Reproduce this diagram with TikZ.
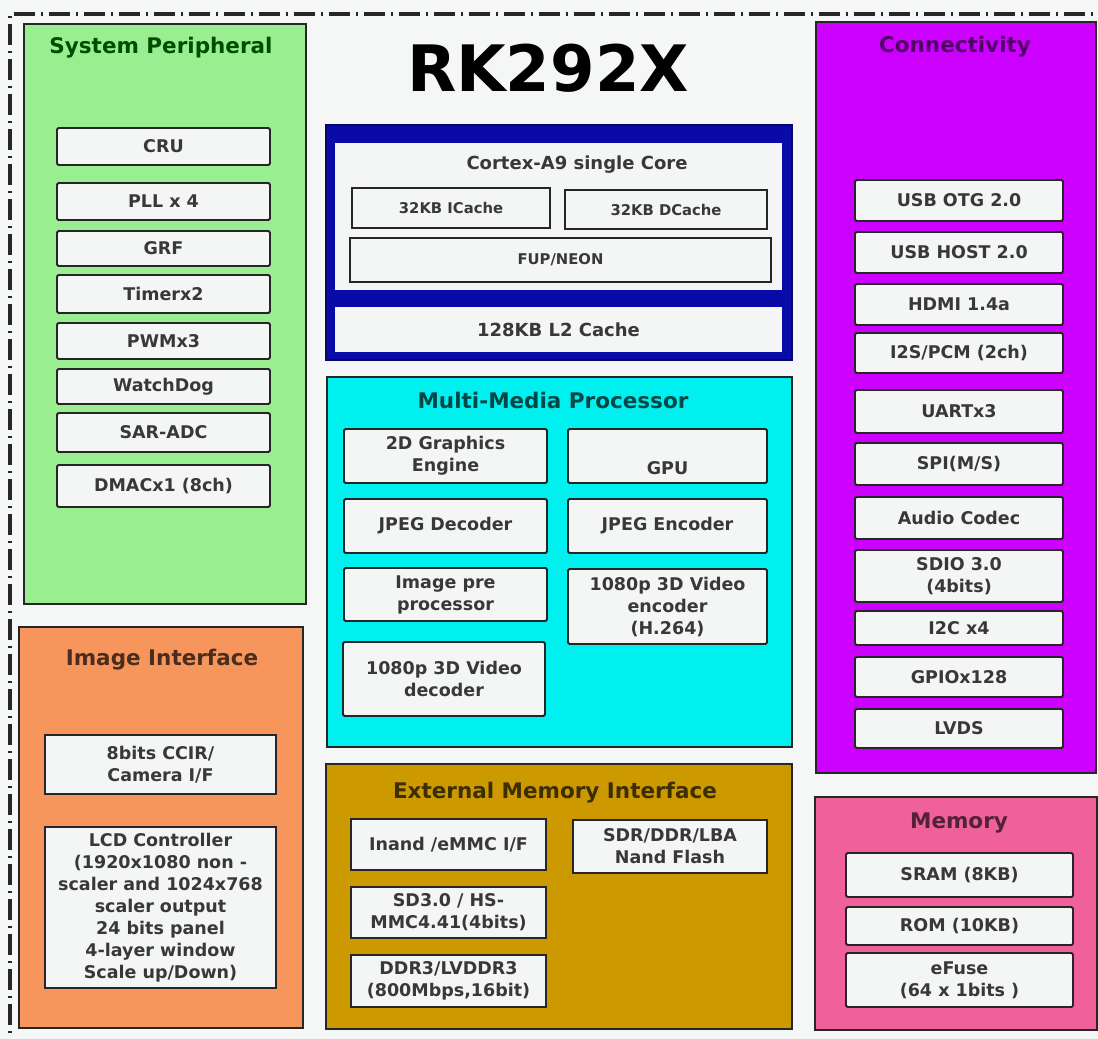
\documentclass[tikz,border=0pt]{standalone}
\usepackage{fontspec}
\setmainfont{DejaVu Sans}
\definecolor{bg}{HTML}{F5F6F6}
\definecolor{cgreen}{HTML}{99EF8F}
\definecolor{corange}{HTML}{F7965C}
\definecolor{cmag}{HTML}{CC00FF}
\definecolor{cpink}{HTML}{F0609A}
\definecolor{ccyan}{HTML}{00F0F0}
\definecolor{cgold}{HTML}{CC9900}
\definecolor{cblue}{HTML}{0A0AA8}
\definecolor{boxw}{HTML}{F4F5F5}
\definecolor{txt}{HTML}{383838}
\definecolor{edge}{HTML}{262626}
\newcommand\itxt{\fontsize{17.5}{22}\selectfont\bfseries}
\newcommand\stxt{\fontsize{14.8}{18}\selectfont\bfseries}
\newcommand\ttxt{\fontsize{21.5}{25}\selectfont\bfseries}
% x1, y1, x2, y2, text ; optional style
\newcommand\bx[6][]{\node[ibox,minimum width={#4-#2},minimum height={#5-#3},#1] (#2x#3) at ({(#2+#4)/2},{(#3+#5)/2}) {#6};}
\newcommand\gbx[6]{\node[grp,fill=#6,minimum width={#4-#2},minimum height={#5-#3}] (#1) at ({(#2+#4)/2},{(#3+#5)/2}) {};}
\begin{document}
\begin{tikzpicture}[x=1pt,y=-1pt,
  grp/.style={draw=edge,line width=1.8pt,inner sep=0pt,outer sep=0pt},
  ibox/.style={draw=edge,line width=1.8pt,fill=boxw,rounded corners=1.5pt,inner sep=0pt,
    align=center,font=\itxt,text=txt},
  ttl/.style={font=\ttxt,inner sep=0pt}]
\useasboundingbox (0,0) rectangle (1098,1039);
\fill[bg] (0,0) rectangle (1098,1039);
\coordinate (bl) at (10,1060);
\coordinate (tl) at (10,14);
\coordinate (tr) at (1110,14);
\draw[line width=3.5pt,draw=edge,dash pattern=on 21pt off 6pt on 2pt off 6pt] (bl) -- (tl) -- (tr);

% group boxes
\gbx{sp}{24}{24}{306}{604}{cgreen}
\gbx{ii}{19}{627}{303}{1028}{corange}
\gbx{conn}{816}{22}{1096}{773}{cmag}
\gbx{mem}{815}{797}{1097}{1030}{cpink}
\node[draw=cblue!60!black,line width=1.8pt,fill=cblue,minimum width=466,minimum height=235,inner sep=0pt] (cpu) at (559,242.5) {};
\node[fill=boxw,minimum width=447,minimum height=147,inner sep=0pt] (core) at (558.5,216.5) {};
\node[fill=boxw,minimum width=447,minimum height=45,inner sep=0pt,font=\fontsize{18}{20}\selectfont\bfseries,text=txt] (l2) at (558.5,329.5) {128KB L2 Cache};
\gbx{mmp}{327}{377}{792}{747}{ccyan}
\gbx{emi}{326}{764}{792}{1029}{cgold}

% titles
\node[ttl,text=green!30!black] (tsp) at (161,48) {System Peripheral};
\node[font=\fontsize{64}{70}\selectfont\bfseries,text=black,inner sep=0pt] (title) at (548,68) {RK292X};
\node[ttl,text=cmag!40!black] (tconn) at (955,47) {Connectivity};
\node[ttl,text=ccyan!30!black] (tmmp) at (553,400) {Multi-Media Processor};
\node[ttl,text=cgold!30!black] (temi) at (555,793) {External Memory Interface};
\node[ttl,text=corange!30!black] (tii) at (162,660) {Image Interface};
\node[ttl,text=cpink!35!black] (tmem) at (959,823) {Memory};
\node[font=\fontsize{18}{20}\selectfont\bfseries,text=txt,inner sep=0pt] (tcore) at (577,165) {Cortex-A9 single Core};

% system peripheral
\bx{57}{128}{270}{165}{CRU}
\bx{57}{183}{270}{220}{PLL x 4}
\bx{57}{231}{270}{266}{GRF}
\bx{57}{275}{270}{313}{Timerx2}
\bx{57}{323}{270}{359}{PWMx3}
\bx{57}{369}{270}{404}{WatchDog}
\bx{57}{413}{270}{452}{SAR-ADC}
\bx{57}{465}{270}{507}{DMACx1 (8ch)}

% cortex
\bx[font=\stxt,rounded corners=0pt]{352}{188}{550}{228}{32KB ICache}
\bx[font=\stxt,rounded corners=0pt]{565}{190}{767}{229}{32KB DCache}
\bx[font=\stxt,rounded corners=0pt]{350}{238}{771}{282}{FUP/NEON}

% multimedia
\bx{344}{429}{547}{483}{2D Graphics\\Engine}
\bx{568}{429}{767}{483}{\strut\\GPU}
\bx{344}{499}{547}{553}{JPEG Decoder}
\bx{568}{499}{767}{553}{JPEG Encoder}
\bx{344}{568}{547}{621}{Image pre\\processor}
\bx{568}{569}{767}{644}{1080p 3D Video\\encoder\\(H.264)}
\bx{343}{642}{545}{716}{1080p 3D Video\\decoder}

% external memory
\bx[rounded corners=0pt]{351}{819}{546}{870}{Inand /eMMC I/F}
\bx[rounded corners=0pt]{573}{820}{767}{873}{SDR/DDR/LBA\\Nand Flash}
\bx[rounded corners=0pt]{351}{887}{546}{938}{SD3.0 / HS-\\MMC4.41(4bits)}
\bx[rounded corners=0pt]{351}{955}{546}{1007}{DDR3/LVDDR3\\(800Mbps,16bit)}

% image interface
\bx[rounded corners=0pt]{45}{735}{276}{794}{8bits CCIR/\\Camera I/F}
\bx[rounded corners=0pt]{45}{827}{276}{988}{LCD Controller\\(1920x1080 non -\\scaler and 1024x768\\scaler output\\24 bits panel\\4-layer window\\Scale up/Down)}

% connectivity
\bx{855}{180}{1063}{221}{USB OTG 2.0}
\bx{855}{232}{1063}{273}{USB HOST 2.0}
\bx{855}{284}{1063}{325}{HDMI 1.4a}
\bx{855}{333}{1063}{373}{I2S/PCM (2ch)}
\bx{855}{390}{1063}{433}{UARTx3}
\bx{855}{443}{1063}{485}{SPI(M/S)}
\bx{855}{497}{1063}{539}{Audio Codec}
\bx{855}{550}{1063}{602}{SDIO 3.0\\(4bits)}
\bx{855}{611}{1063}{645}{I2C x4}
\bx{855}{657}{1063}{697}{GPIOx128}
\bx{855}{709}{1063}{748}{LVDS}

% memory
\bx{846}{853}{1073}{897}{SRAM (8KB)}
\bx{846}{907}{1073}{945}{ROM (10KB)}
\bx{846}{953}{1073}{1007}{eFuse\\(64 x 1bits )}
\end{tikzpicture}
\end{document}
